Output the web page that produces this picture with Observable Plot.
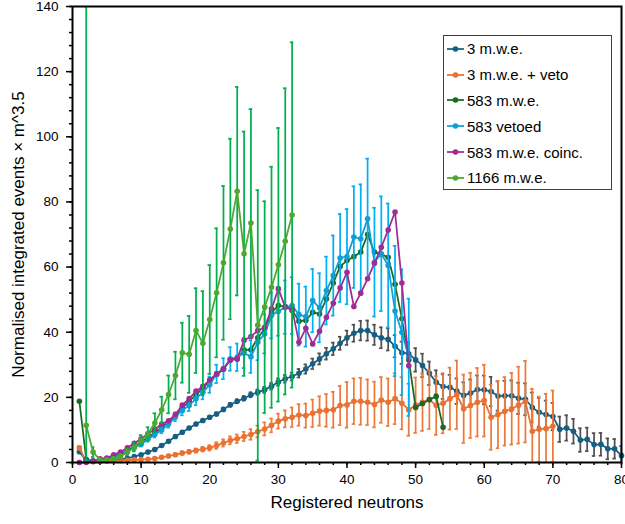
<!DOCTYPE html>
<html><head><meta charset="utf-8">
<script src="https://cdn.jsdelivr.net/npm/d3@7"></script>
<script src="https://cdn.jsdelivr.net/npm/@observablehq/plot@0.6"></script>
<style>
body{margin:0;background:#fff;font-family:"Liberation Sans",Arial,sans-serif;}
#wrap{position:relative;width:625px;height:524px;}
#legend{position:absolute;left:443px;top:35px;width:169px;height:155px;border:1px solid #404040;background:#fff;box-sizing:border-box;padding-top:0px;}
.row{height:25.8px;display:flex;align-items:center;font-size:15px;color:#000;white-space:nowrap;}
.row svg{margin-left:3px;margin-right:3px;}
</style></head>
<body><div id="wrap"></div>
<script>
const neutrons = d3.range(1, 81);
const seriesNames = ["3 m.w.e.", "3 m.w.e. + veto", "583 m.w.e.", "583 vetoed", "583 m.w.e. coinc.", "1166 m.w.e."];
const seriesColors = ["#156082", "#E97132", "#196B24", "#0F9ED5", "#A02B93", "#4EA72E"];
const barColors = ["#505050", "#EE7A3A", null, "#00B0F0", null, "#00B050"];
const seriesStart = [1, 1, 1, 1, 1, 2];

const mwe3 = [3.3,0.6,0.3,0.4,0.5,0.7,1.0,1.3,1.8,2.4,3.2,4.0,5.2,6.5,8.0,9.3,10.6,11.8,12.9,13.9,
14.9,16.3,17.7,18.8,19.7,20.8,21.6,22.3,23.4,24.7,25.7,26.4,27.4,28.7,30.3,31.8,33.4,34.9,36.6,38.3,
39.7,40.5,40.5,39.2,38.3,37.8,35.7,33.7,33.4,31.5,29.8,27.4,24.6,23.3,23.1,21.9,20.6,21.3,22.4,22.3,
21.8,20.4,20.5,20.5,19.7,19.4,16.9,15.4,14.7,14.1,10.2,10.6,9.6,6.9,7.1,5.5,5.6,4.2,4.2,2.1];
const mwe3Err = [0.2,0.2,0.2,0.2,0.2,0.2,0.2,0.2,0.2,0.2,0.25,0.25,0.3,0.3,0.3,0.35,0.35,0.4,0.4,0.4,
0.45,0.5,0.55,0.6,0.7,0.75,0.8,0.9,1.0,1.1,1.15,1.2,1.3,1.4,1.6,1.7,1.8,1.9,2.0,2.2,
2.6,3.0,3.1,3.1,3.2,3.4,3.4,3.4,3.5,3.6,3.6,3.6,3.7,3.8,3.8,3.9,4.0,4.2,4.3,4.4,
4.5,4.5,4.6,4.7,4.8,4.9,4.6,4.4,4.3,4.2,3.9,3.9,3.8,3.6,3.6,3.5,3.5,3.2,3.0,2.9];

const veto3 = [4.5,0.3,0.3,0.5,0.6,0.6,0.6,0.7,0.8,0.9,1.0,1.2,1.6,2.0,2.4,2.9,3.3,3.7,4.1,4.5,
5.2,6.0,6.8,7.3,8.0,8.6,9.5,10.3,11.4,12.7,13.4,13.9,14.6,14.4,15.1,15.8,16.0,16.2,17.5,17.7,
18.8,18.8,18.5,17.8,19.2,18.5,19.6,18.2,16.2,17.6,18.5,19.3,17.5,18.2,19.6,20.8,16.5,17.5,18.5,19.0,
13.9,14.7,15.7,16.5,17.6,18.7,9.6,10.2,10.4,11.1];
const veto3Err = [0.5,0.1,0.1,0.1,0.1,0.1,0.1,0.15,0.15,0.2,0.25,0.3,0.35,0.4,0.45,0.5,0.55,0.6,0.7,0.8,
1.0,1.1,1.2,1.3,1.4,1.6,1.8,2.0,2.1,2.3,2.6,3.0,3.3,3.7,4.2,4.5,5.0,5.5,6.0,7.0,
7.0,7.2,7.0,7.0,7.0,7.3,7.8,8.0,8.0,8.5,8.8,9.0,9.0,9.2,9.5,10.5,10.5,10.0,10.5,11.0,
10.0,10.3,10.5,11.0,11.8,12.5,13.0,10.0,10.7,11.0];

const mwe583 = [18.8,1.0,0.5,0.8,1.2,1.8,2.6,3.7,5.0,6.3,7.7,9.2,10.8,12.5,14.5,16.8,18.8,20.8,22.8,25.0,
27.0,28.6,31.5,31.8,34.6,34.6,38.3,41.0,46.1,48.2,47.9,46.7,43.4,43.6,46.1,45.6,50.2,55.1,60.2,62.0,
63.2,64.6,70.0,64.6,63.9,63.0,54.7,44.1,31.5,16.9,18.1,19.3,20.3,10.8];

const vetoed583 = [0,0.2,0.4,0.7,1.0,1.6,2.3,3.3,4.5,5.6,7.2,8.6,10.0,11.8,14.0,16.0,17.5,19.6,21.6,23.9,
27.2,28.8,31.8,32.3,33.6,32.5,36.9,39.5,45.1,46.4,47.7,48.2,45.4,44.8,49.7,47.5,52.8,57.4,62.8,63.2,
69.2,68.7,74.8,61.5,64.1,60.5,46.5,40.0,32.3];
const vetoed583Err = [0.2,0.2,0.2,0.3,0.3,0.4,0.4,0.5,0.6,0.7,0.8,0.9,1.0,1.1,1.3,1.5,1.7,2.0,2.2,2.5,
2.8,3.2,3.6,4.2,4.6,5.0,5.5,6.0,7.0,7.5,8.2,8.7,9.5,9.2,9.7,10.6,10.4,12.3,13.5,14.6,
15.6,16.7,18.5,16.7,17.6,19.0,20.0,19.3,18.0];

const coinc583 = [0,0,0.4,1.1,1.4,2.4,3.2,4.5,5.9,7.3,8.8,10.2,11.8,12.8,14.8,17.6,19.6,21.9,23.4,25.4,
27.2,28.8,31.5,31.8,37.5,38.7,40.5,41.5,47.2,53.3,47.7,47.2,36.9,41.2,36.4,40.3,44.6,48.9,53.6,58.4,
47.9,52.0,56.4,61.2,66.1,71.4,76.9,55.1,29.7];

const mwe1166 = [11.4,3.2,0.8,0.8,1.1,1.8,3.2,4.7,6.8,8.8,12.1,16.2,20.9,26.7,33.7,33.2,40.5,36.6,43.9,
52.1,61.3,71.7,83.3,64.1,73.5,42.1,47.7,53.8,60.7,67.9,76.0];
const mwe1166Err = [140,1.5,0.5,0.5,0.6,0.8,1.0,1.3,1.6,2.0,3.0,4.0,5.8,7.3,9.2,11.8,13.0,16.0,16.7,
19.8,23.6,27.7,32.0,37.5,35.0,41.5,32.5,37.0,42.0,47.0,53.0];

const xTicks = [0,10,20,30,40,50,60,70,80];
const yTicks = [0,20,40,60,80,100,120,140];

const values = [mwe3, veto3, mwe583, vetoed583, coinc583, mwe1166];
const errors = [mwe3Err, veto3Err, null, vetoed583Err, null, mwe1166Err];

const marks = [];
const cap = 0.25;
values.forEach((vals, s) => {
  const rows = vals.map((v, i) => ({n: neutrons[seriesStart[s] - 1 + i], v, e: errors[s] ? errors[s][i] : 0}));
  if (errors[s]) {
    const bc = barColors[s];
    marks.push(Plot.ruleX(rows, {x: "n", y1: d => d.v - d.e, y2: d => d.v + d.e, stroke: bc, strokeWidth: 1.75, clip: true}));
    marks.push(Plot.ruleY(rows, {y: d => d.v + d.e, x1: d => d.n - cap, x2: d => d.n + cap, stroke: bc, strokeWidth: 1.75, clip: true}));
    marks.push(Plot.ruleY(rows, {y: d => d.v - d.e, x1: d => d.n - cap, x2: d => d.n + cap, stroke: bc, strokeWidth: 1.75, clip: true}));
  }
  marks.push(Plot.line(rows, {x: "n", y: "v", stroke: seriesColors[s], strokeWidth: 1.75}));
  marks.push(Plot.dot(rows, {x: "n", y: "v", r: 2.8, fill: seriesColors[s], stroke: "none"}));
});

const chart = Plot.plot({
  width: 625, height: 524,
  marginLeft: 72, marginRight: 4, marginTop: 6, marginBottom: 62,
  style: {fontFamily: '"Liberation Sans", Arial, sans-serif', fontSize: "13px", color: "#000", background: "#fff"},
  x: {domain: [0, 80]},
  y: {domain: [0, 140]},
  marks: [
    Plot.axisX({ticks: d3.range(0, 81, 2), tickSize: 3, tickFormat: () => "", strokeWidth: 1.5, label: null}),
    Plot.axisX({ticks: xTicks, tickSize: 6, tickPadding: 6, strokeWidth: 1.5, fontSize: 13.5, label: null}),
    Plot.axisY({ticks: d3.range(0, 141, 4), tickSize: 3, tickFormat: () => "", strokeWidth: 1.5, label: null}),
    Plot.axisY({ticks: yTicks, tickSize: 6, tickPadding: 8, strokeWidth: 1.5, fontSize: 13.5, label: null}),
    ...marks,
    Plot.frame({stroke: "#000", strokeWidth: 2}),
    Plot.text(["Registered neutrons"], {frameAnchor: "bottom", dy: 45, fontSize: 17, fill: "#000", textAnchor: "middle"}),
    Plot.text(["Normalised integrated events × m^3.5"], {frameAnchor: "left", dx: -54, rotate: -90, fontSize: 17, fill: "#000", textAnchor: "middle"})
  ]
});
const wrap = document.getElementById("wrap");
wrap.appendChild(chart);

const legend = document.createElement("div");
legend.id = "legend";
seriesNames.forEach((name, i) => {
  const row = document.createElement("div");
  row.className = "row";
  row.innerHTML = `<svg width="17" height="8"><line x1="0" y1="4" x2="17" y2="4" stroke="${seriesColors[i]}" stroke-width="1.75"/><circle cx="8.5" cy="4" r="2.8" fill="${seriesColors[i]}"/></svg><span>${name}</span>`;
  legend.appendChild(row);
});
wrap.appendChild(legend);
</script>
</body></html>
